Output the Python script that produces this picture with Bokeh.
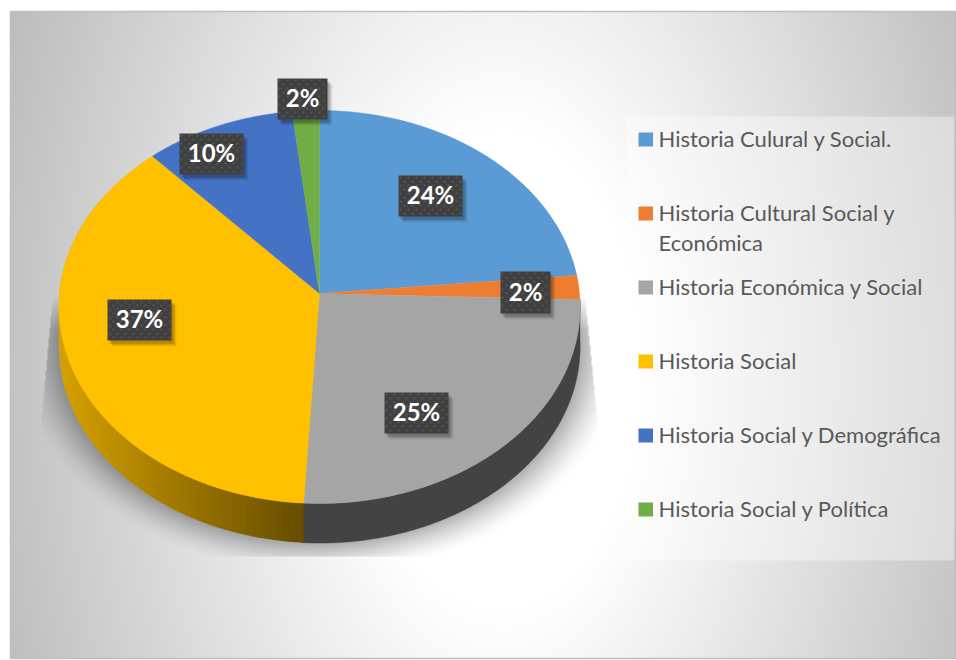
import numpy as np
from bokeh.plotting import figure
from bokeh.embed import file_html
from bokeh.resources import INLINE
from bokeh.core.properties import value

categories = ["Historia Culural y Social.", "Historia Cultural Social y\nEconómica",
              "Historia Económica y Social", "Historia Social",
              "Historia Social y Demográfica", "Historia Social y Política"]
shares = [23.5, 2.0, 25.4, 37.3, 10.0, 1.8]
colors = ["#5B9BD5", "#ED7D31", "#A5A5A5", "#FFC000", "#4472C4", "#70AD47"]
label_texts = ["24%", "2%", "25%", "37%", "10%", "2%"]

# label boxes (left, top, right, bottom), px
label_boxes = [(398, 175, 462, 216), (500, 271, 550, 313), (384, 392, 448, 433),
               (107, 299, 171, 340), (179, 133, 243, 174), (277, 78, 327, 119)]
legend_y = [139, 213, 287, 361, 435, 509]

W, H = 956, 660
p = figure(width=W, height=H, x_range=(0, W), y_range=(H, 0),
           toolbar_location=None, output_backend="svg", min_border=0,
           outline_line_color=None, background_fill_color="white", border_fill_color="white")
p.axis.visible = False
p.grid.visible = False

# panel
PL, PT, PR, PB = 10, 11, 955, 658
CX, CY, A, B, K, DEPTH = 319.0, 293.0, 260.0, 195.6, 0.0687, 39.5


def rim(theta_deg):
    t = np.radians(np.asarray(theta_deg, dtype=float))
    u, v = np.sin(t), np.cos(t)
    d = 1 + K * v
    return CX + A * u / d, CY - B * v / d


# background raster: radial gradient plus soft shadow
xx, yy = np.meshgrid(np.arange(PL, PR) + .5, np.arange(PT, PB) + .5)
r = np.hypot((xx - 500) / 470, (yy - 370) / 800)
grey = 255 - np.clip(r - 0.3, 0, None) * 80
ecy, ery = 306.5, 196.5
dy = yy - ecy
dy = np.where(dy > 0, np.maximum(dy - DEPTH, 0), dy)
dist = (np.hypot((xx - CX) / 262, dy / ery) - 1) * 225
sh = np.clip(1 - dist / 36, 0, 1) ** 1.5
sh *= np.clip((yy - 295) / 35, 0, 1)
left_clip = np.clip(52 - (yy - 300) * 12 / 130, 41, 52)
right_clip = np.clip(585 + (yy - 300) * 12 / 120, 585, 597)
sh *= ((xx > left_clip) & (xx < right_clip) & (yy < 556))
grey = grey * (1 - 0.30 * sh)
# legend panel
legend_mask = (xx > 626) & (xx < 954) & (yy > 116) & (yy < 560)
grey = np.where(legend_mask, grey + (255 - grey) * 0.38, grey)
g = np.clip(grey, 0, 255).astype(np.uint32)
img = (255 << 24) | (g << 16) | (g << 8) | g
p.image_rgba(image=[img.astype(np.uint32)], x=PL, y=PT, dw=PR - PL, dh=PB - PT)
p.quad(left=PL, right=PR, top=PT, bottom=PB, fill_color=None, line_color="#BFBFBF", line_width=1.5)

# slices
cum = np.concatenate([[0], np.cumsum(shares)]) * 3.6

# side walls
grey_end, yellow_end = cum[3], cum[4]
th = np.arange(cum[2], grey_end + 1.0, 0.5)
x1, y1 = rim(th)
p.patch(np.r_[x1, x1[::-1]], np.r_[y1, (y1 + DEPTH)[::-1]], fill_color="#434343", line_color="#434343", line_width=.5)
edges = np.arange(grey_end, 300, 1.5)
xs, ys, cs = [], [], []
dark, light = np.array([0x68, 0x4E, 0x00]), np.array([0xD6, 0xA2, 0x00])
for a0, a1 in zip(edges[:-1], edges[1:]):
    xa, ya = rim([a0, a1 + .4])
    xs.append([xa[0], xa[1], xa[1], xa[0]])
    ys.append([ya[0], ya[1], ya[1] + DEPTH, ya[0] + DEPTH])
    f = np.clip((xa[0] - 60) / (303 - 60), 0, 1)
    c = light + (dark - light) * f
    cs.append("#%02x%02x%02x" % tuple(int(i) for i in c))
p.patches(xs, ys, fill_color=cs, line_color=None)

# top slices
for a0, a1, col in zip(cum[:-1], cum[1:], colors):
    th = np.linspace(a0, a1, max(int(a1 - a0) * 2, 6))
    x, y = rim(th)
    p.patch(np.r_[CX, x], np.r_[CY, y], fill_color=col, line_color=col, line_width=.4)

# data labels
for (l, t, r_, b), txt in zip(label_boxes, label_texts):
    for off, al in ((6, .05), (5, .07), (4, .09), (3, .12)):
        p.quad(left=l + off - 1, right=r_ + off - 1, top=t + off, bottom=b + off, fill_color="black", fill_alpha=al, line_color=None)
    p.quad(left=l, right=r_, top=t, bottom=b, fill_color="#404040", line_color=None)
    gx, gy = [], []
    for j, yy_ in enumerate(np.arange(t + 2, b, 4.0)):
        for xx_ in np.arange(l + 2 + (j % 2) * 4, r_ - 1, 8.0):
            gx.append(xx_); gy.append(yy_)
    p.scatter(gx, gy, marker="square", size=2, fill_color="#565656", line_color=None)
    p.text([(l + r_) / 2], [(t + b) / 2 - 1.5], text=[txt], text_color="white", text_font=value("Lato"),
           text_font_style="bold", text_font_size="24px", text_align="center", text_baseline="middle")

# legend
for y, cat, col in zip(legend_y, categories, colors):
    p.quad(left=638, right=652.5, top=y - 7, bottom=y + 7, fill_color=col, line_color=None)
    for i, line in enumerate(cat.split("\n")):
        p.text([658], [y + i * 30 - 1], text=[line], text_color="#595959", text_font=value("Lato"),
               text_font_size="22px", text_align="left", text_baseline="middle")

open("out.html", "w").write(file_html(p, INLINE))
